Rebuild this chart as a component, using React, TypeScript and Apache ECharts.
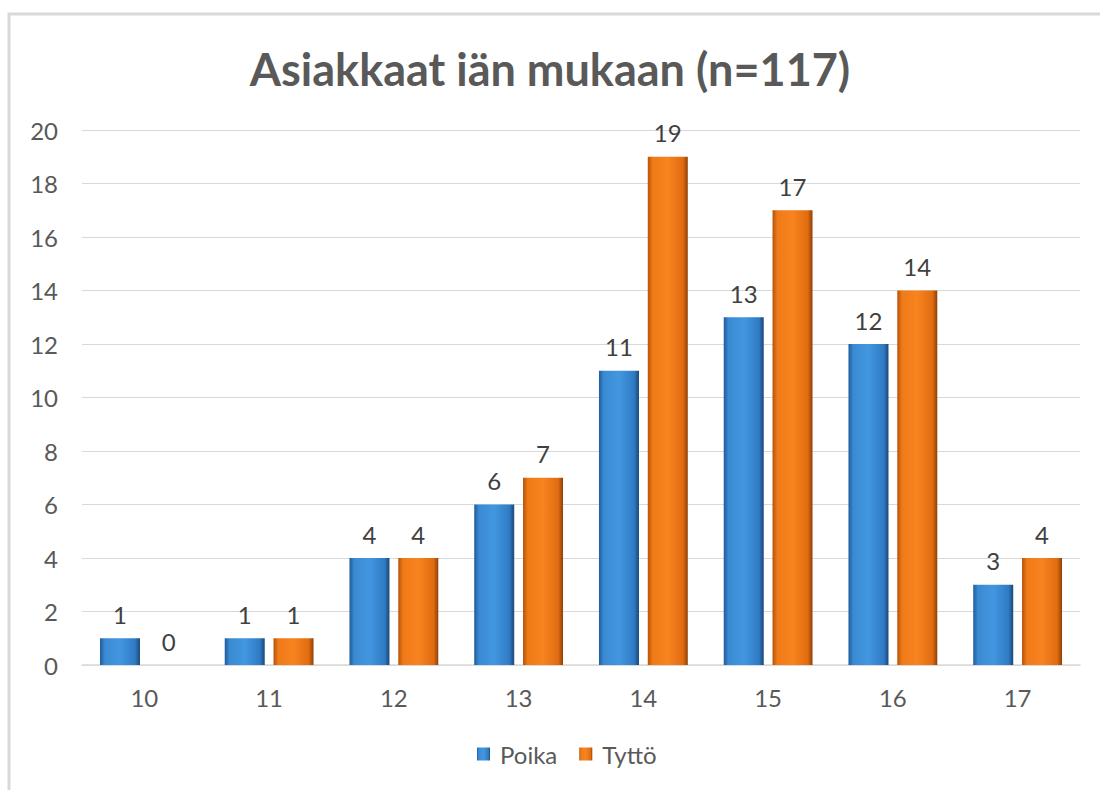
import React, { useEffect, useRef } from "react";
import * as echarts from "echarts";

const categories = ["10", "11", "12", "13", "14", "15", "16", "17"];
const poika = [1, 1, 4, 6, 11, 13, 12, 3];
const tytto = [0, 1, 4, 7, 19, 17, 14, 4];
const seriesNames = ["Poika", "Tyttö"];
const titleText = "Asiakkaat iän mukaan (n=117)";

const blueGrad = new echarts.graphic.LinearGradient(0, 0, 1, 0, [
  { offset: 0, color: "#1f5c9c" },
  { offset: 0.12, color: "#3a8ad2" },
  { offset: 0.5, color: "#4297e0" },
  { offset: 0.88, color: "#2f7bc4" },
  { offset: 1, color: "#1a4778" },
]);
const orangeGrad = new echarts.graphic.LinearGradient(0, 0, 1, 0, [
  { offset: 0, color: "#b65208" },
  { offset: 0.12, color: "#ef7a18" },
  { offset: 0.5, color: "#f8831f" },
  { offset: 0.88, color: "#e06c10" },
  { offset: 1, color: "#8f4007" },
]);

export default function App() {
  const ref = useRef<HTMLDivElement>(null);
  useEffect(() => {
    document.body.style.margin = "0";
    const chart = echarts.init(ref.current!, null, { renderer: "svg" });
    const font = "Lato, 'Open Sans', sans-serif";
    const labelCfg = {
      show: true,
      position: "top" as const,
      distance: 12,
      fontSize: 24,
      color: "#404040",
      fontFamily: font,
    };
    chart.setOption({
      animation: false,
      backgroundColor: "#ffffff",
      graphic: [
        {
          type: "rect",
          shape: { x: 9, y: 14, width: 1120, height: 800 },
          style: { fill: "none", stroke: "#d9d9d9", lineWidth: 3 },
          silent: true,
        },
      ],
      title: {
        text: titleText,
        left: "center",
        top: 41,
        textStyle: {
          fontSize: 45,
          fontWeight: "bold",
          color: "#595959",
          fontFamily: font,
        },
      },
      legend: {
        data: seriesNames,
        bottom: 19,
        left: 472,
        itemWidth: 13,
        itemHeight: 13,
        itemGap: 22,
        icon: "rect",
        textStyle: { fontSize: 24, color: "#595959", fontFamily: font, padding: [0, 0, 0, 5] },
      },
      grid: { left: 82, right: 20, top: 130, bottom: 125 },
      xAxis: {
        type: "category",
        data: categories,
        axisLine: { lineStyle: { color: "#d9d9d9", width: 1.5 } },
        axisTick: { show: false },
        axisLabel: { fontSize: 24, color: "#595959", margin: 20, fontFamily: font },
      },
      yAxis: {
        type: "value",
        min: 0,
        max: 20,
        interval: 2,
        axisLine: { show: false },
        axisTick: { show: false },
        splitLine: { lineStyle: { color: "#d9d9d9", width: 1.2 } },
        axisLabel: { fontSize: 24, color: "#595959", margin: 24, fontFamily: font },
      },
      series: [
        {
          name: seriesNames[0],
          type: "bar",
          data: poika,
          barWidth: 40,
          barGap: "22%",
          itemStyle: { color: blueGrad },
          label: labelCfg,
        },
        {
          name: seriesNames[1],
          type: "bar",
          data: tytto,
          barWidth: 40,
          itemStyle: { color: orangeGrad },
          label: labelCfg,
        },
      ],
    });
    return () => chart.dispose();
  }, []);
  return <div ref={ref} style={{ width: 1100, height: 790 }} />;
}
